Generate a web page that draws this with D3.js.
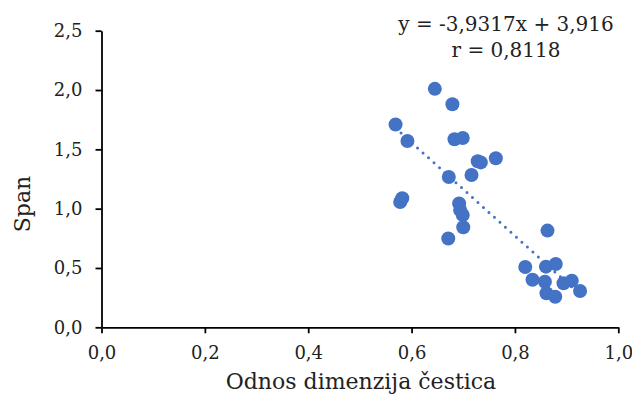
<!DOCTYPE html>
<html><head><meta charset="utf-8">
<script src="https://cdn.jsdelivr.net/npm/d3@7"></script>
<style>html,body{margin:0;padding:0;background:#fff}svg{display:block}</style>
</head><body>
<script>
// Data
const xValues = [0.645,0.679,0.569,0.592,0.683,0.699,0.728,0.734,0.763,0.672,0.716,0.582,0.578,0.692,0.694,0.699,0.700,0.671,0.863,0.820,0.860,0.879,0.834,0.858,0.861,0.878,0.894,0.910,0.926];
const yValues = [2.01,1.88,1.71,1.57,1.585,1.596,1.40,1.39,1.425,1.267,1.284,1.088,1.056,1.044,0.989,0.947,0.843,0.749,0.815,0.508,0.511,0.534,0.401,0.384,0.287,0.258,0.371,0.393,0.306];
const xTicks = [0,0.2,0.4,0.6,0.8,1.0];
const yTicks = [0,0.5,1.0,1.5,2.0,2.5];
const slope = -3.9317, intercept = 3.916;
const eqLabel = "y = -3,9317x + 3,916";
const rLabel = "r = 0,8118";
const xTitle = "Odnos dimenzija čestica";
const yTitle = "Span";

const W = 632, H = 404;
const FONT = "'DejaVu Serif', serif";
const color = "#4472C4";
const x = d3.scaleLinear().domain([0,1]).range([101.5,618.3]);
const y = d3.scaleLinear().domain([0,2.5]).range([327.3,30.7]);
const fmt = d => d3.format(".1f")(d).replace(".", ",");

const svg = d3.select("body").append("svg").attr("width", W).attr("height", H);

// axes
const gx = svg.append("g").attr("transform", `translate(0,${y(0)})`)
  .call(d3.axisBottom(x).tickValues(xTicks).tickFormat(fmt).tickSize(6).tickSizeOuter(0).tickPadding(13));
const gy = svg.append("g").attr("transform", `translate(${x(0)},0)`)
  .call(d3.axisLeft(y).tickValues(yTicks).tickFormat(fmt).tickSize(6).tickSizeOuter(0).tickPadding(13));
[gx, gy].forEach(g => {
  g.selectAll("path.domain").attr("stroke", "#000").attr("stroke-width", 1.8);
  g.selectAll(".tick line").attr("stroke", "#000").attr("stroke-width", 1.8);
  g.selectAll(".tick text").attr("font-family", FONT).attr("font-size", 18).attr("fill", "#222");
});

// trendline
const xmin = d3.min(xValues), xmax = d3.max(xValues);
svg.append("line")
  .attr("x1", x(xmin)).attr("y1", y(slope*xmin+intercept))
  .attr("x2", x(xmax)).attr("y2", y(slope*xmax+intercept))
  .attr("stroke", color).attr("stroke-width", 3)
  .attr("stroke-linecap", "round").attr("stroke-dasharray", "0 7.4");

// points
svg.append("g").selectAll("circle").data(xValues.map((v,i)=>[v,yValues[i]])).join("circle")
  .attr("cx", d => x(d[0])).attr("cy", d => y(d[1])).attr("r", 7)
  .attr("fill", color);

// equation
svg.append("text").attr("x", 506).attr("y", 31).attr("text-anchor","middle")
  .attr("font-family", FONT).attr("font-size", 20).attr("fill","#222").text(eqLabel);
svg.append("text").attr("x", 506).attr("y", 57).attr("text-anchor","middle")
  .attr("font-family", FONT).attr("font-size", 20).attr("fill","#222").text(rLabel);

// axis titles
svg.append("text").attr("x", 361).attr("y", 389).attr("text-anchor","middle")
  .attr("font-family", FONT).attr("font-size", 22).attr("fill","#222").text(xTitle);
svg.append("text").attr("transform", "translate(30,204) rotate(-90)").attr("text-anchor","middle")
  .attr("font-family", FONT).attr("font-size", 22).attr("fill","#222").text(yTitle);
</script>
</body></html>
